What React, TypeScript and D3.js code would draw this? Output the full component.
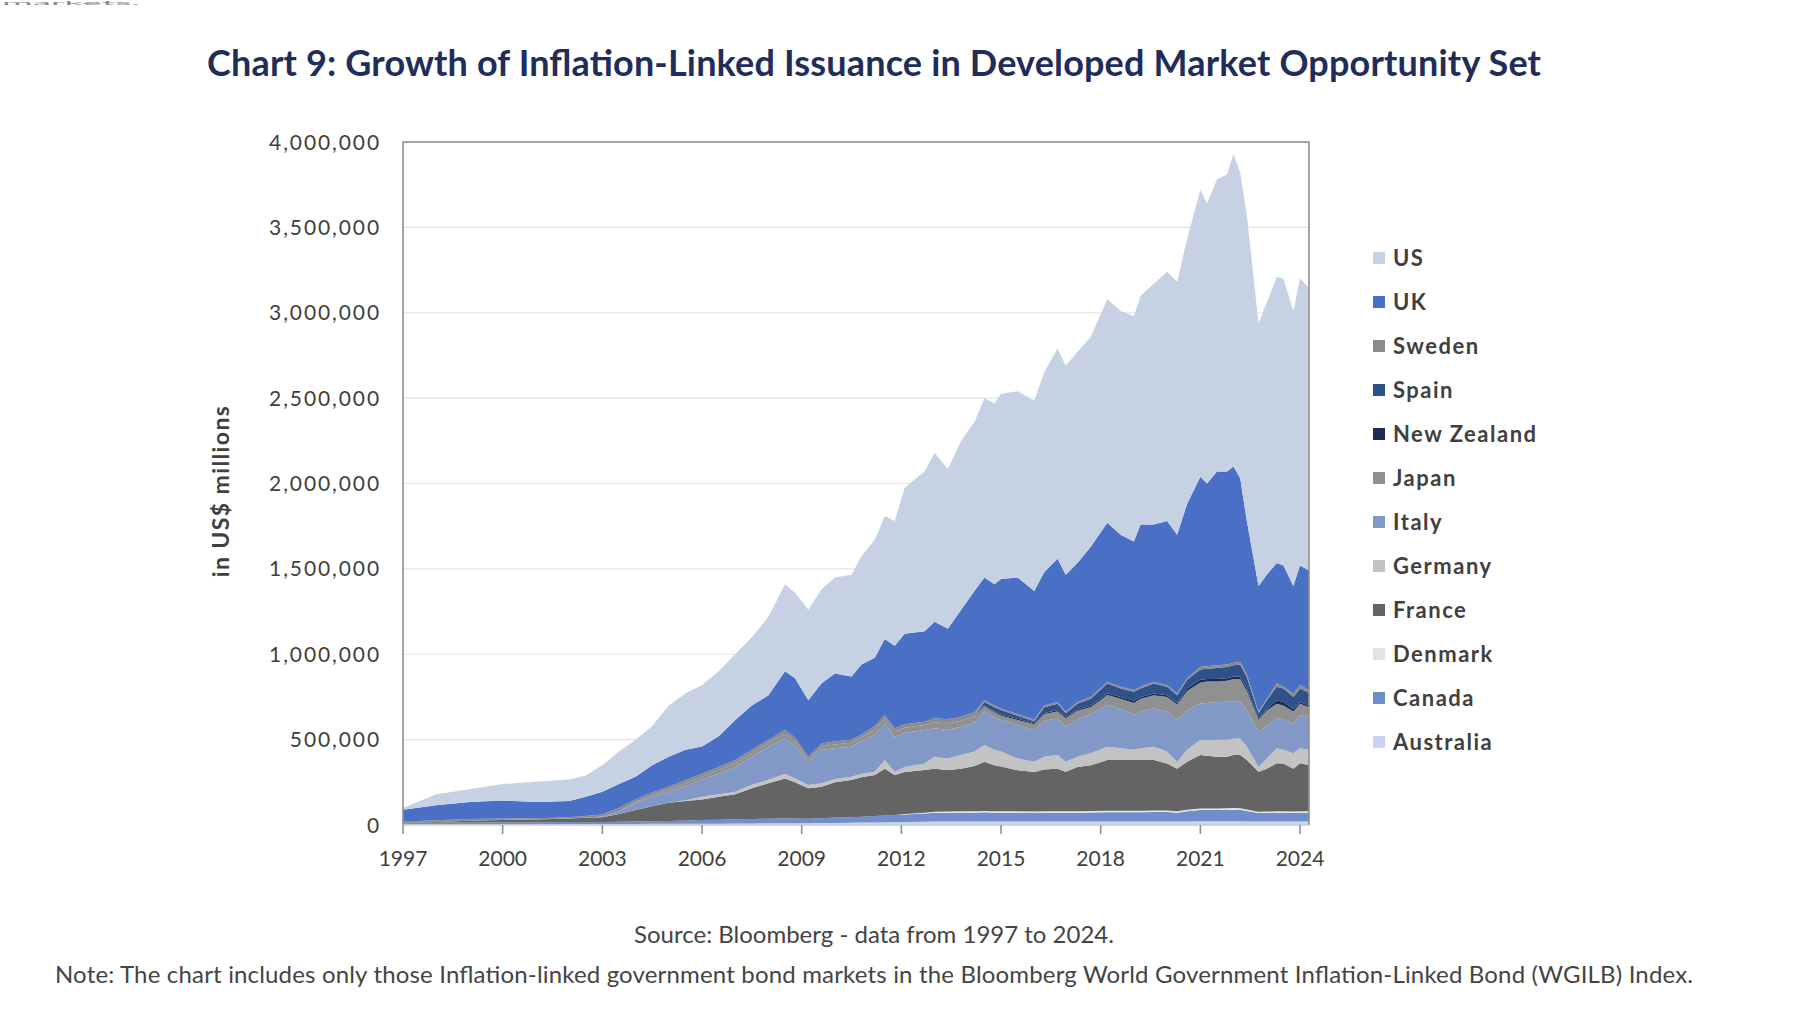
import React, { useEffect, useRef } from 'react';
import * as d3 from 'd3';

// decimal years of each observation
const dates = [
  1997.0, 1998.0, 1999.0, 2000.0, 2001.0, 2002.0, 2002.5, 2003.0, 2003.5, 2004.0,
  2004.5, 2005.0, 2005.5, 2006.0, 2006.5, 2007.0, 2007.5, 2008.0, 2008.5, 2008.8,
  2009.2, 2009.6, 2010.0, 2010.5, 2010.8, 2011.2, 2011.5, 2011.8, 2012.1, 2012.7,
  2013.0, 2013.4, 2013.8, 2014.2, 2014.5, 2014.8, 2015.0, 2015.5, 2016.0, 2016.3,
  2016.7, 2016.95, 2017.3, 2017.7, 2018.2, 2018.6, 2019.0, 2019.2, 2019.6, 2020.0,
  2020.3, 2020.6, 2021.0, 2021.2, 2021.5, 2021.8, 2022.0, 2022.2, 2022.4, 2022.75,
  2023.0, 2023.3, 2023.5, 2023.8, 2024.0, 2024.27
];

// market values in US$ billions (converted to millions below)
const australia = [
  4, 4, 5, 5, 5, 6, 6, 6, 6, 6, 7, 7, 7, 8, 8, 9, 9, 10, 10, 10,
  10, 11, 12, 13, 14, 15, 16, 16, 17, 19, 20, 20, 20, 20, 21, 20, 20, 20, 20, 20,
  20, 20, 20, 20, 21, 21, 21, 21, 21, 21, 20, 21, 22, 22, 22, 22, 22, 22, 21, 20,
  20, 20, 20, 20, 20, 20
];
const canada = [
  6, 9, 10, 11, 11, 11, 12, 12, 13, 14, 15, 17, 20, 22, 23, 24, 26, 27, 30, 28,
  26, 29, 32, 33, 34, 37, 40, 42, 45, 49, 52, 52, 52, 52, 53, 52, 52, 51, 50, 51,
  52, 51, 52, 53, 54, 53, 53, 54, 55, 55, 52, 59, 66, 66, 66, 67, 68, 67, 61, 50,
  51, 52, 52, 51, 52, 52
];
const denmark = [
  0, 0, 0, 0, 0, 0, 0, 0, 0, 0, 0, 0, 0, 0, 0, 0, 0, 0, 0, 0,
  0, 0, 0, 0, 0, 0, 0, 0, 2, 4, 6, 7, 8, 8, 8, 9, 9, 9, 9, 9,
  9, 9, 9, 9, 9, 9, 9, 9, 9, 9, 9, 9, 9, 9, 9, 9, 9, 9, 9, 8,
  8, 8, 8, 8, 8, 8
];
const france = [
  0, 5, 10, 14, 16, 21, 24, 27, 46, 68, 88, 106, 113, 120, 134, 147, 180, 208, 233, 212,
  179, 184, 206, 217, 232, 241, 274, 235, 246, 250, 252, 243, 250, 265, 288, 269, 261, 240, 231, 245,
  249, 232, 259, 268, 296, 297, 297, 296, 295, 275, 249, 281, 313, 308, 303, 302, 311, 312, 289, 234,
  251, 281, 280, 251, 281, 271
];
const germany = [
  0, 0, 0, 0, 0, 0, 0, 0, 0, 0, 0, 0, 5, 16, 15, 15, 20, 20, 27, 22,
  19, 20, 20, 20, 20, 19, 50, 19, 30, 38, 70, 68, 80, 85, 98, 90, 88, 70, 60, 75,
  80, 58, 60, 70, 79, 70, 60, 70, 79, 70, 41, 70, 88, 90, 100, 100, 95, 97, 80, 28,
  60, 88, 80, 90, 88, 89
];
const italy = [
  0, 0, 0, 0, 0, 0, 0, 5, 15, 40, 55, 65, 83, 97, 120, 145, 165, 195, 207, 193,
  136, 196, 180, 176, 190, 215, 215, 205, 200, 196, 166, 166, 166, 170, 196, 190, 185, 195, 186, 210,
  215, 206, 220, 230, 244, 230, 204, 215, 224, 234, 244, 230, 214, 220, 220, 222, 217, 215, 210, 206,
  190, 176, 180, 175, 195, 194
];
const japan = [
  0, 0, 0, 0, 0, 0, 0, 0, 0, 7, 10, 13, 17, 20, 22, 22, 22, 22, 28, 27,
  16, 20, 22, 23, 22, 29, 27, 28, 30, 29, 34, 40, 34, 35, 31, 30, 25, 30, 34, 40,
  40, 49, 50, 40, 58, 60, 71, 75, 77, 86, 90, 115, 123, 125, 120, 123, 133, 133, 115, 69,
  90, 85, 80, 70, 66, 56
];
const newZealand = [
  0, 0, 0, 0, 0, 0, 0, 0, 0, 0, 0, 0, 0, 0, 0, 0, 0, 0, 0, 0,
  0, 0, 0, 0, 0, 0, 0, 0, 0, 0, 0, 0, 0, 0, 5, 5, 5, 7, 6, 6,
  7, 7, 8, 8, 10, 10, 12, 10, 10, 10, 10, 15, 15, 15, 15, 15, 15, 15, 15, 5,
  10, 20, 20, 15, 10, 10
];
const spain = [
  0, 0, 0, 0, 0, 0, 0, 0, 0, 0, 0, 0, 0, 0, 0, 0, 0, 0, 0, 0,
  0, 0, 0, 0, 0, 0, 0, 0, 0, 0, 0, 0, 0, 0, 20, 25, 28, 18, 12, 34,
  38, 22, 32, 42, 58, 50, 53, 50, 59, 50, 45, 50, 60, 60, 65, 65, 65, 70, 65, 35,
  50, 80, 80, 70, 80, 75
];
const sweden = [
  10, 10, 10, 8, 8, 8, 10, 12, 20, 15, 15, 16, 17, 17, 18, 18, 18, 18, 21, 20,
  14, 18, 18, 18, 18, 22, 22, 21, 20, 20, 25, 24, 24, 25, 10, 10, 10, 10, 10, 10,
  10, 10, 10, 10, 10, 10, 10, 10, 10, 10, 10, 10, 17, 15, 15, 15, 15, 16, 15, 9,
  10, 20, 10, 20, 20, 15
];
const uk = [
  70, 88, 100, 105, 95, 94, 113, 133, 140, 133, 160, 176, 178, 160, 180, 235, 260, 260, 344, 348,
  330, 352, 397, 370, 410, 402, 446, 484, 530, 530, 565, 530, 626, 710, 720, 710, 757, 800, 752, 780,
  840, 801, 815, 880, 931, 890, 870, 950, 921, 960, 930, 1020, 1113, 1070, 1135, 1130, 1150, 1074, 900, 736,
  725, 705, 710, 630, 700, 700
];
const us = [
  10, 64, 75, 97, 118, 127, 125, 155, 190, 217, 230, 300, 330, 360, 380, 385, 400, 460, 510, 500,
  530, 550, 563, 595, 635, 690, 720, 730, 855, 935, 990, 935, 990, 990, 1050, 1060, 1085, 1090, 1115, 1170,
  1230, 1225, 1235, 1230, 1310, 1310, 1320, 1340, 1410, 1460, 1480, 1550, 1680, 1640, 1710, 1740, 1830, 1790, 1790, 1540,
  1595, 1675, 1680, 1610, 1680, 1655
];

// bottom of the stack first
const countries = [
  'Australia', 'Canada', 'Denmark', 'France', 'Germany', 'Italy',
  'Japan', 'New Zealand', 'Spain', 'Sweden', 'UK', 'US'
];
const seriesValues = [
  australia, canada, denmark, france, germany, italy,
  japan, newZealand, spain, sweden, uk, us
];
const countryColors = [
  '#c9d5ee', '#6e8fcb', '#e3e3e3', '#646464', '#c3c3c3', '#8298c6',
  '#909090', '#1c2a55', '#2f5189', '#8b8b8b', '#4a70c5', '#c6d2e4'
];

const yTicks = [0, 500000, 1000000, 1500000, 2000000, 2500000, 3000000, 3500000, 4000000];
const xTicks = [1997, 2000, 2003, 2006, 2009, 2012, 2015, 2018, 2021, 2024];

const titleText = 'Chart 9: Growth of Inflation-Linked Issuance in Developed Market Opportunity Set';
const sourceText = 'Source: Bloomberg - data from 1997 to 2024.';
const noteText = 'Note: The chart includes only those Inflation-linked government bond markets in the Bloomberg World Government Inflation-Linked Bond (WGILB) Index.';

const App: React.FC = () => {
  const svgRef = useRef<SVGSVGElement>(null);

  useEffect(() => {
    if (!svgRef.current) return;
    const W = 1802;
    const H = 1018;
    const plot = { left: 403, right: 1309, top: 142, bottom: 825 };
    const font = 'Lato, "Noto Sans", sans-serif';

    d3.select(svgRef.current).selectAll('*').remove();
    const svg = d3.select(svgRef.current)
      .attr('width', W)
      .attr('height', H)
      .style('font-family', font);

    svg.append('rect').attr('width', W).attr('height', H).attr('fill', '#ffffff');

    // table of rows for d3.stack, values in US$ millions
    const rows = dates.map((t, i) => {
      const row: Record<string, number> = { t };
      countries.forEach((c, k) => { row[c] = seriesValues[k][i] * 1000; });
      return row;
    });

    const x = d3.scaleLinear()
      .domain([dates[0], dates[dates.length - 1]])
      .range([plot.left, plot.right]);
    const y = d3.scaleLinear()
      .domain([0, 4000000])
      .range([plot.bottom, plot.top]);

    // gridlines
    svg.append('g')
      .selectAll('line')
      .data(yTicks.slice(1))
      .enter().append('line')
      .attr('x1', plot.left)
      .attr('x2', plot.right)
      .attr('y1', d => y(d))
      .attr('y2', d => y(d))
      .attr('stroke', '#e2e2e2')
      .attr('stroke-width', 1.2);

    // stacked areas
    const stack = d3.stack<Record<string, number>>().keys(countries);
    const layers = stack(rows);
    const area = d3.area<d3.SeriesPoint<Record<string, number>>>()
      .x(d => x(d.data.t))
      .y0(d => y(d[0]))
      .y1(d => y(d[1]));

    svg.append('g')
      .selectAll('path')
      .data(layers)
      .enter().append('path')
      .attr('fill', (_, i) => countryColors[i])
      .attr('d', area);

    // frame
    svg.append('path')
      .attr('d', `M${plot.left},${plot.bottom}V${plot.top}H${plot.right}V${plot.bottom}`)
      .attr('fill', 'none')
      .attr('stroke', '#8f8f8f')
      .attr('stroke-width', 1.6);
    svg.append('line')
      .attr('x1', plot.left).attr('x2', plot.right)
      .attr('y1', plot.bottom).attr('y2', plot.bottom)
      .attr('stroke', '#c9c9c9')
      .attr('stroke-width', 1.5);

    // x axis ticks and labels
    const xg = svg.append('g');
    xg.selectAll('line')
      .data(xTicks)
      .enter().append('line')
      .attr('x1', d => x(d)).attr('x2', d => x(d))
      .attr('y1', plot.bottom).attr('y2', plot.bottom + 9)
      .attr('stroke', '#8f8f8f')
      .attr('stroke-width', 1.6);
    xg.selectAll('text')
      .data(xTicks)
      .enter().append('text')
      .attr('x', d => x(d))
      .attr('y', 866)
      .attr('text-anchor', 'middle')
      .attr('font-size', 21)
      .attr('fill', '#404040')
      .text(d => String(d));

    // y axis labels
    const fmt = d3.format(',');
    svg.append('g')
      .selectAll('text')
      .data(yTicks)
      .enter().append('text')
      .attr('x', 381)
      .attr('y', d => y(d))
      .attr('dy', '0.36em')
      .attr('text-anchor', 'end')
      .attr('font-size', 21)
      .attr('letter-spacing', 1.9)
      .attr('fill', '#404040')
      .text(d => fmt(d));

    svg.append('text')
      .attr('transform', 'translate(229,491) rotate(-90)')
      .attr('text-anchor', 'middle')
      .attr('font-size', 23)
      .attr('font-weight', 700)
      .attr('letter-spacing', 1.4)
      .attr('fill', '#404040')
      .text('in US$ millions');

    // legend, top of stack first
    const legendItems = countries.map((c, i) => ({ name: c, color: countryColors[i] })).reverse();
    const legend = svg.append('g')
      .selectAll('g')
      .data(legendItems)
      .enter().append('g')
      .attr('transform', (_, i) => `translate(1373,${258 + i * 44})`);
    legend.append('rect')
      .attr('x', 0)
      .attr('y', -6)
      .attr('width', 12)
      .attr('height', 12)
      .attr('fill', d => d.color);
    legend.append('text')
      .attr('x', 20)
      .attr('y', 0)
      .attr('dy', '0.36em')
      .attr('font-size', 22)
      .attr('font-weight', 700)
      .attr('letter-spacing', 1.5)
      .attr('fill', '#404040')
      .text(d => d.name);

    // title and footnotes
    svg.append('text')
      .attr('x', 207)
      .attr('y', 76)
      .attr('font-size', 36)
      .attr('font-weight', 700)
      .attr('fill', '#1f2d5b')
      .attr('textLength', 1334)
      .attr('lengthAdjust', 'spacing')
      .text(titleText);

    svg.append('text')
      .attr('x', 874)
      .attr('y', 943)
      .attr('text-anchor', 'middle')
      .attr('font-size', 24)
      .attr('fill', '#444444')
      .text(sourceText);

    svg.append('text')
      .attr('x', 55)
      .attr('y', 983)
      .attr('font-size', 24)
      .attr('fill', '#444444')
      .attr('textLength', 1638)
      .attr('lengthAdjust', 'spacing')
      .text(noteText);

    // tail of the previous paragraph, only a sliver shows at the top edge
    svg.append('text')
      .attr('x', 2)
      .attr('y', 5)
      .attr('font-size', 5)
      .attr('fill', '#8a8a8a')
      .attr('textLength', 138)
      .attr('lengthAdjust', 'spacingAndGlyphs')
      .text('markets.');
  }, []);

  return (
    <svg
      ref={svgRef}
      style={{ position: 'absolute', left: 0, top: 0, display: 'block' }}
    />
  );
};

export default App;
